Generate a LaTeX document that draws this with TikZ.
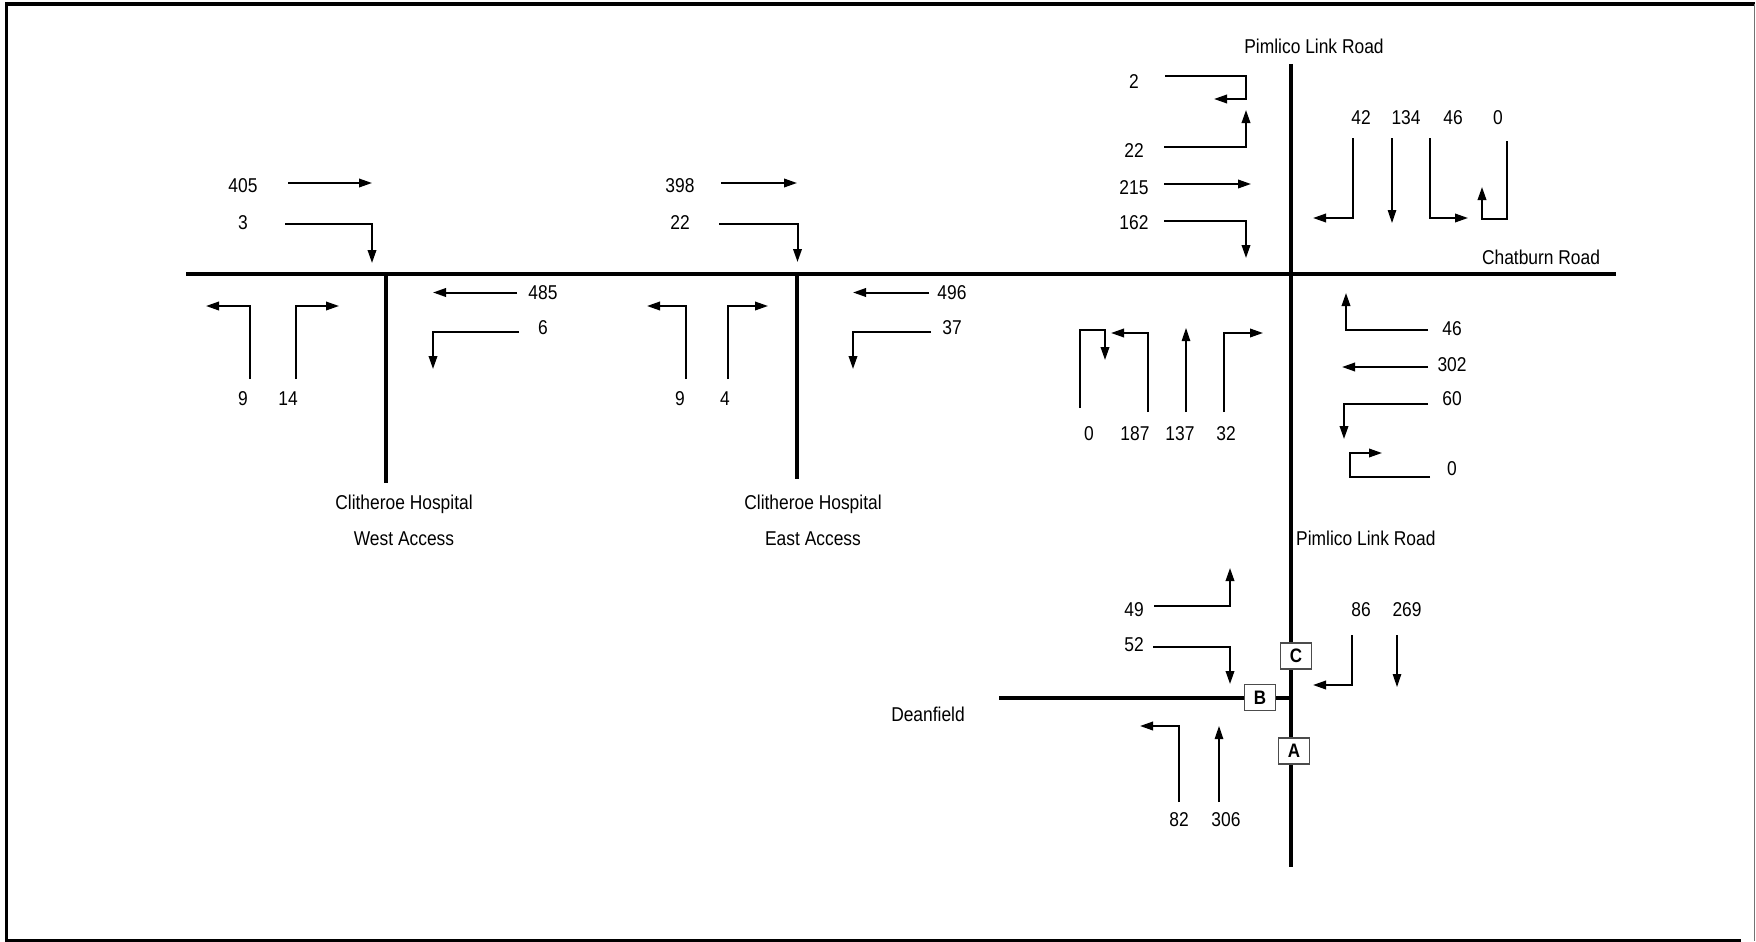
\documentclass[tikz,border=0pt]{standalone}
\usepackage{fontspec}
\setmainfont{Liberation Sans}[FakeStretch=0.87]
\usetikzlibrary{arrows.meta}

\begin{document}
\begin{tikzpicture}[x=1pt,y=-1pt,
  lbl/.style={inner sep=0pt,font=\fontsize{20}{24}\selectfont,text height=14.3pt,text depth=0pt},
  road/.style={line width=4.5pt},
  mv/.style={-{Triangle[length=13pt,width=8.5pt]},line width=2pt},
  mvthin/.style={-{Triangle[length=13pt,width=8.5pt]},line width=1.2pt},
  jbox/.style={draw=black!70,line width=1.2pt,fill=white,minimum width=31pt,minimum height=26pt,inner sep=0pt,font=\fontsize{19.5}{20}\selectfont\bfseries}]
\useasboundingbox (0,0) rectangle (1756,942);

% frame
\draw[line width=3pt] (6,2) -- (6,941);
\draw[line width=4pt] (5,4) -- (1755,4);
\draw[black!55,line width=1.5pt] (1754.5,4) -- (1754.5,941);
\draw[line width=3pt] (5,940) -- (1741,940);

% roads
\draw[road] (186,274) -- (1616,274);
\draw[road] (1291,64) -- (1291,867);
\draw[road] (386,274) -- (386,483);
\draw[road] (797,274) -- (797,479);
\draw[road] (999,698) -- (1291,698);

\node[lbl] (R1) at (1314,46) {Pimlico Link Road};
\node[lbl] (R2) at (1541,257) {Chatburn Road};
\node[lbl,anchor=west] (R3) at (1296,538) {Pimlico Link Road};
\node[lbl] (R4) at (928,714) {Deanfield};
\node[lbl] (R5) at (404,502) {Clitheroe Hospital};
\node[lbl] (R6) at (404,538) {West Access};
\node[lbl] (R7) at (813,502) {Clitheroe Hospital};
\node[lbl] (R8) at (813,538) {East Access};

% west access
\node[lbl] (W1) at (243,185) {405};
\node[lbl] (W2) at (243,222) {3};
\node[lbl] (W3) at (543,292) {485};
\node[lbl] (W4) at (543,327) {6};
\node[lbl] (W5) at (243,398) {9};
\node[lbl] (W6) at (288,398) {14};

\draw[mv] (288,183) -- (372,183);
\draw[mv] (285,223.5) -- (372,223.5) -- (372,263);
\draw[mv] (517,292.5) -- (433,292.5);
\draw[mv] (519,331.5) -- (433,331.5) -- (433,369);
\draw[mv] (250,379) -- (250,306) -- (206,306);
\draw[mv] (296,379) -- (296,306) -- (339,306);

% east access
\node[lbl] (E1) at (680,185) {398};
\node[lbl] (E2) at (680,222) {22};
\node[lbl] (E3) at (952,292) {496};
\node[lbl] (E4) at (952,327) {37};
\node[lbl] (E5) at (680,398) {9};
\node[lbl] (E6) at (725,398) {4};

\draw[mv] (721,183) -- (797,183);
\draw[mv] (719,223.5) -- (797.5,223.5) -- (797.5,262);
\draw[mv] (929,292.5) -- (853,292.5);
\draw[mv] (931,331.5) -- (853,331.5) -- (853,369);
\draw[mv] (686,379) -- (686,306) -- (647,306);
\draw[mv] (728,379) -- (728,306) -- (768,306);

% chatburn road / pimlico link road
\node[lbl] (N1) at (1134,81) {2};
\node[lbl] (N2) at (1134,150) {22};
\node[lbl] (N3) at (1134,187) {215};
\node[lbl] (N4) at (1134,222) {162};

\draw[mv] (1165,76) -- (1246,76) -- (1246,99) -- (1214,99);
\draw[mv] (1164,147) -- (1246,147) -- (1246,110);
\draw[mv] (1164,184) -- (1251,184);
\draw[mv] (1164,221) -- (1246,221) -- (1246,258);

\node[lbl] (S1) at (1361,117) {42};
\node[lbl] (S2) at (1406,117) {134};
\node[lbl] (S3) at (1453,117) {46};
\node[lbl] (S4) at (1498,117) {0};

\draw[mv] (1353,138) -- (1353,218) -- (1313,218);
\draw[mvthin] (1392,138) -- (1392,223);
\draw[mv] (1430,138) -- (1430,218) -- (1468,218);
\draw[mv] (1507,141) -- (1507,219) -- (1482,219) -- (1482,187);

\node[lbl] (U1) at (1089,433) {0};
\node[lbl] (U2) at (1135,433) {187};
\node[lbl] (U3) at (1180,433) {137};
\node[lbl] (U4) at (1226,433) {32};

\draw[mv] (1080,408) -- (1080,330) -- (1105,330) -- (1105,360);
\draw[mv] (1148,412) -- (1148,333) -- (1111,333);
\draw[mvthin] (1186,412) -- (1186,328);
\draw[mv] (1224,412) -- (1224,333) -- (1263,333);

\node[lbl] (L1) at (1452,328) {46};
\node[lbl] (L2) at (1452,364) {302};
\node[lbl] (L3) at (1452,398) {60};
\node[lbl] (L4) at (1452,468) {0};

\draw[mv] (1428,330) -- (1346,330) -- (1346,293);
\draw[mv] (1428,367) -- (1342,367);
\draw[mv] (1428,404) -- (1344,404) -- (1344,439);
\draw[mv] (1430,477) -- (1350,477) -- (1350,453) -- (1382,453);

% deanfield
\node[lbl] (D1) at (1134,609) {49};
\node[lbl] (D2) at (1134,644) {52};
\node[lbl] (D3) at (1361,609) {86};
\node[lbl] (D4) at (1407,609) {269};
\node[lbl] (D5) at (1179,819) {82};
\node[lbl] (D6) at (1226,819) {306};

\draw[mv] (1154,606) -- (1230,606) -- (1230,568);
\draw[mv] (1153,647) -- (1230,647) -- (1230,684);
\draw[mv] (1352,635) -- (1352,685) -- (1313,685);
\draw[mvthin] (1397,635) -- (1397,687);
\draw[mv] (1179,802) -- (1179,726) -- (1140,726);
\draw[mvthin] (1219,802) -- (1219,726);

\node[jbox] (C) at (1296,656) {C};
\node[jbox] (B) at (1260,697.5) {B};
\node[jbox] (A) at (1294,751) {A};
\end{tikzpicture}
\end{document}
